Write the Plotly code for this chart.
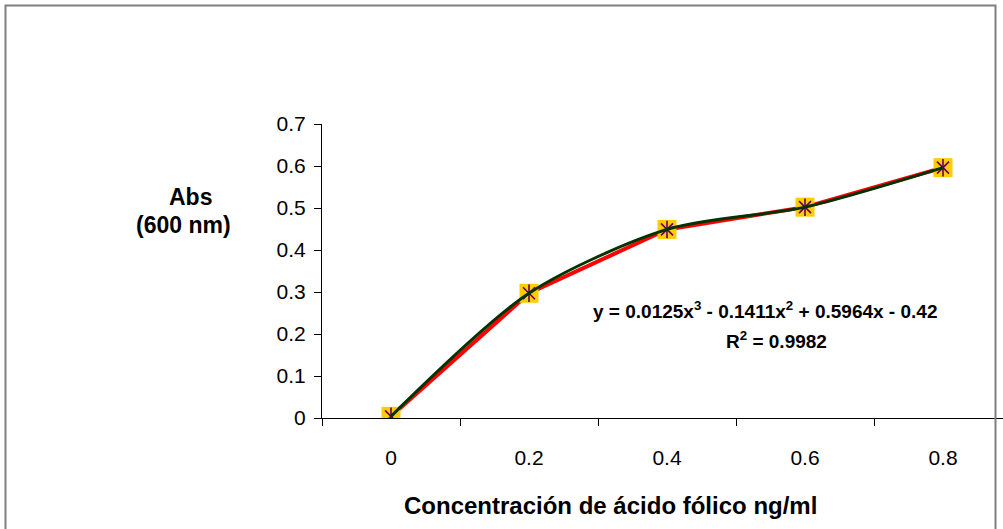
import plotly.graph_objects as go

categories = ["0", "0.2", "0.4", "0.6", "0.8"]
absorbance = [0.004, 0.297, 0.449, 0.502, 0.596]
equation_text = "y = 0.0125x<sup>3</sup> - 0.1411x<sup>2</sup> + 0.5964x - 0.42"
r2_text = "R<sup>2</sup> = 0.9982"

FONT = "Liberation Sans, Arial, sans-serif"
W, H = 1003, 529
L, R, T, B = 322, 0, 124, 111
PW = W - L - R
PH = H - T - B

def px(x):
    return (x - L) / PW

def py(y):
    return (H - B - y) / PH

fig = go.Figure()

# data series (red line)
fig.add_trace(go.Scatter(x=categories, y=absorbance, mode="lines",
                         line=dict(color="#FF0000", width=4),
                         hoverinfo="skip", showlegend=False))
# marker squares
fig.add_trace(go.Scatter(x=categories, y=absorbance, mode="markers",
                         marker=dict(symbol="square", size=19, color="#FFCC00",
                                     line=dict(width=0)),
                         showlegend=False))
# asterisk (x + vertical line)
fig.add_trace(go.Scatter(x=categories, y=absorbance, mode="markers",
                         marker=dict(symbol="x-thin-open", size=12, color="#660066",
                                     line=dict(width=1.6, color="#660066")),
                         showlegend=False))
fig.add_trace(go.Scatter(x=categories, y=absorbance, mode="markers",
                         marker=dict(symbol="line-ns-open", size=12.5, color="#660066",
                                     line=dict(width=1.6, color="#660066")),
                         showlegend=False))
# trendline (dark green smooth curve)
fig.add_trace(go.Scatter(x=categories, y=absorbance, mode="lines",
                         line=dict(color="#003300", width=3, shape="spline", smoothing=0.8),
                         hoverinfo="skip", showlegend=False))

fig.update_layout(
    width=W, height=H,
    margin=dict(l=L, r=R, t=T, b=B, pad=0),
    paper_bgcolor="white", plot_bgcolor="white",
    font=dict(family=FONT, color="black", size=21),
    showlegend=False,
    xaxis=dict(type="category", categoryorder="array", categoryarray=categories,
               range=[-0.5, -0.5 + PW / 138.0],
               tickson="boundaries", ticks="outside", ticklen=7, tickcolor="black",
               showline=True, linecolor="black", linewidth=1,
               showgrid=False, zeroline=False,
               tickfont=dict(size=21, family=FONT), ticklabelstandoff=21),
    yaxis=dict(range=[0, 0.7], dtick=0.1, tick0=0,
               ticks="outside", ticklen=7, tickcolor="black",
               showline=True, linecolor="black", linewidth=1,
               showgrid=False, zeroline=False,
               tickfont=dict(size=21, family=FONT), ticklabelstandoff=4),
)

# outer chart border (left, top, right)
fig.add_shape(type="path", xref="paper", yref="paper",
              path=f"M {px(5.5)} {py(560)} L {px(5.5)} {py(5.5)} L {px(995.5)} {py(5.5)} L {px(995.5)} {py(560)}",
              line=dict(color="#7F7F7F", width=2))

annotations = [
    dict(text="<b>Abs</b>", x=px(190), y=py(197), font=dict(size=23)),
    dict(text="<b>(600 nm)</b>", x=px(183), y=py(225), font=dict(size=23)),
    dict(text="<b>Concentración de ácido fólico ng/ml</b>", x=px(610), y=py(505), font=dict(size=24)),
    dict(text="<b>" + equation_text + "</b>", x=px(765), y=py(310), font=dict(size=19)),
    dict(text="<b>" + r2_text + "</b>", x=px(776), y=py(340), font=dict(size=19)),
]
for a in annotations:
    fig.add_annotation(xref="paper", yref="paper", showarrow=False,
                       xanchor="center", yanchor="middle", **a)

fig.write_html("out.html")
